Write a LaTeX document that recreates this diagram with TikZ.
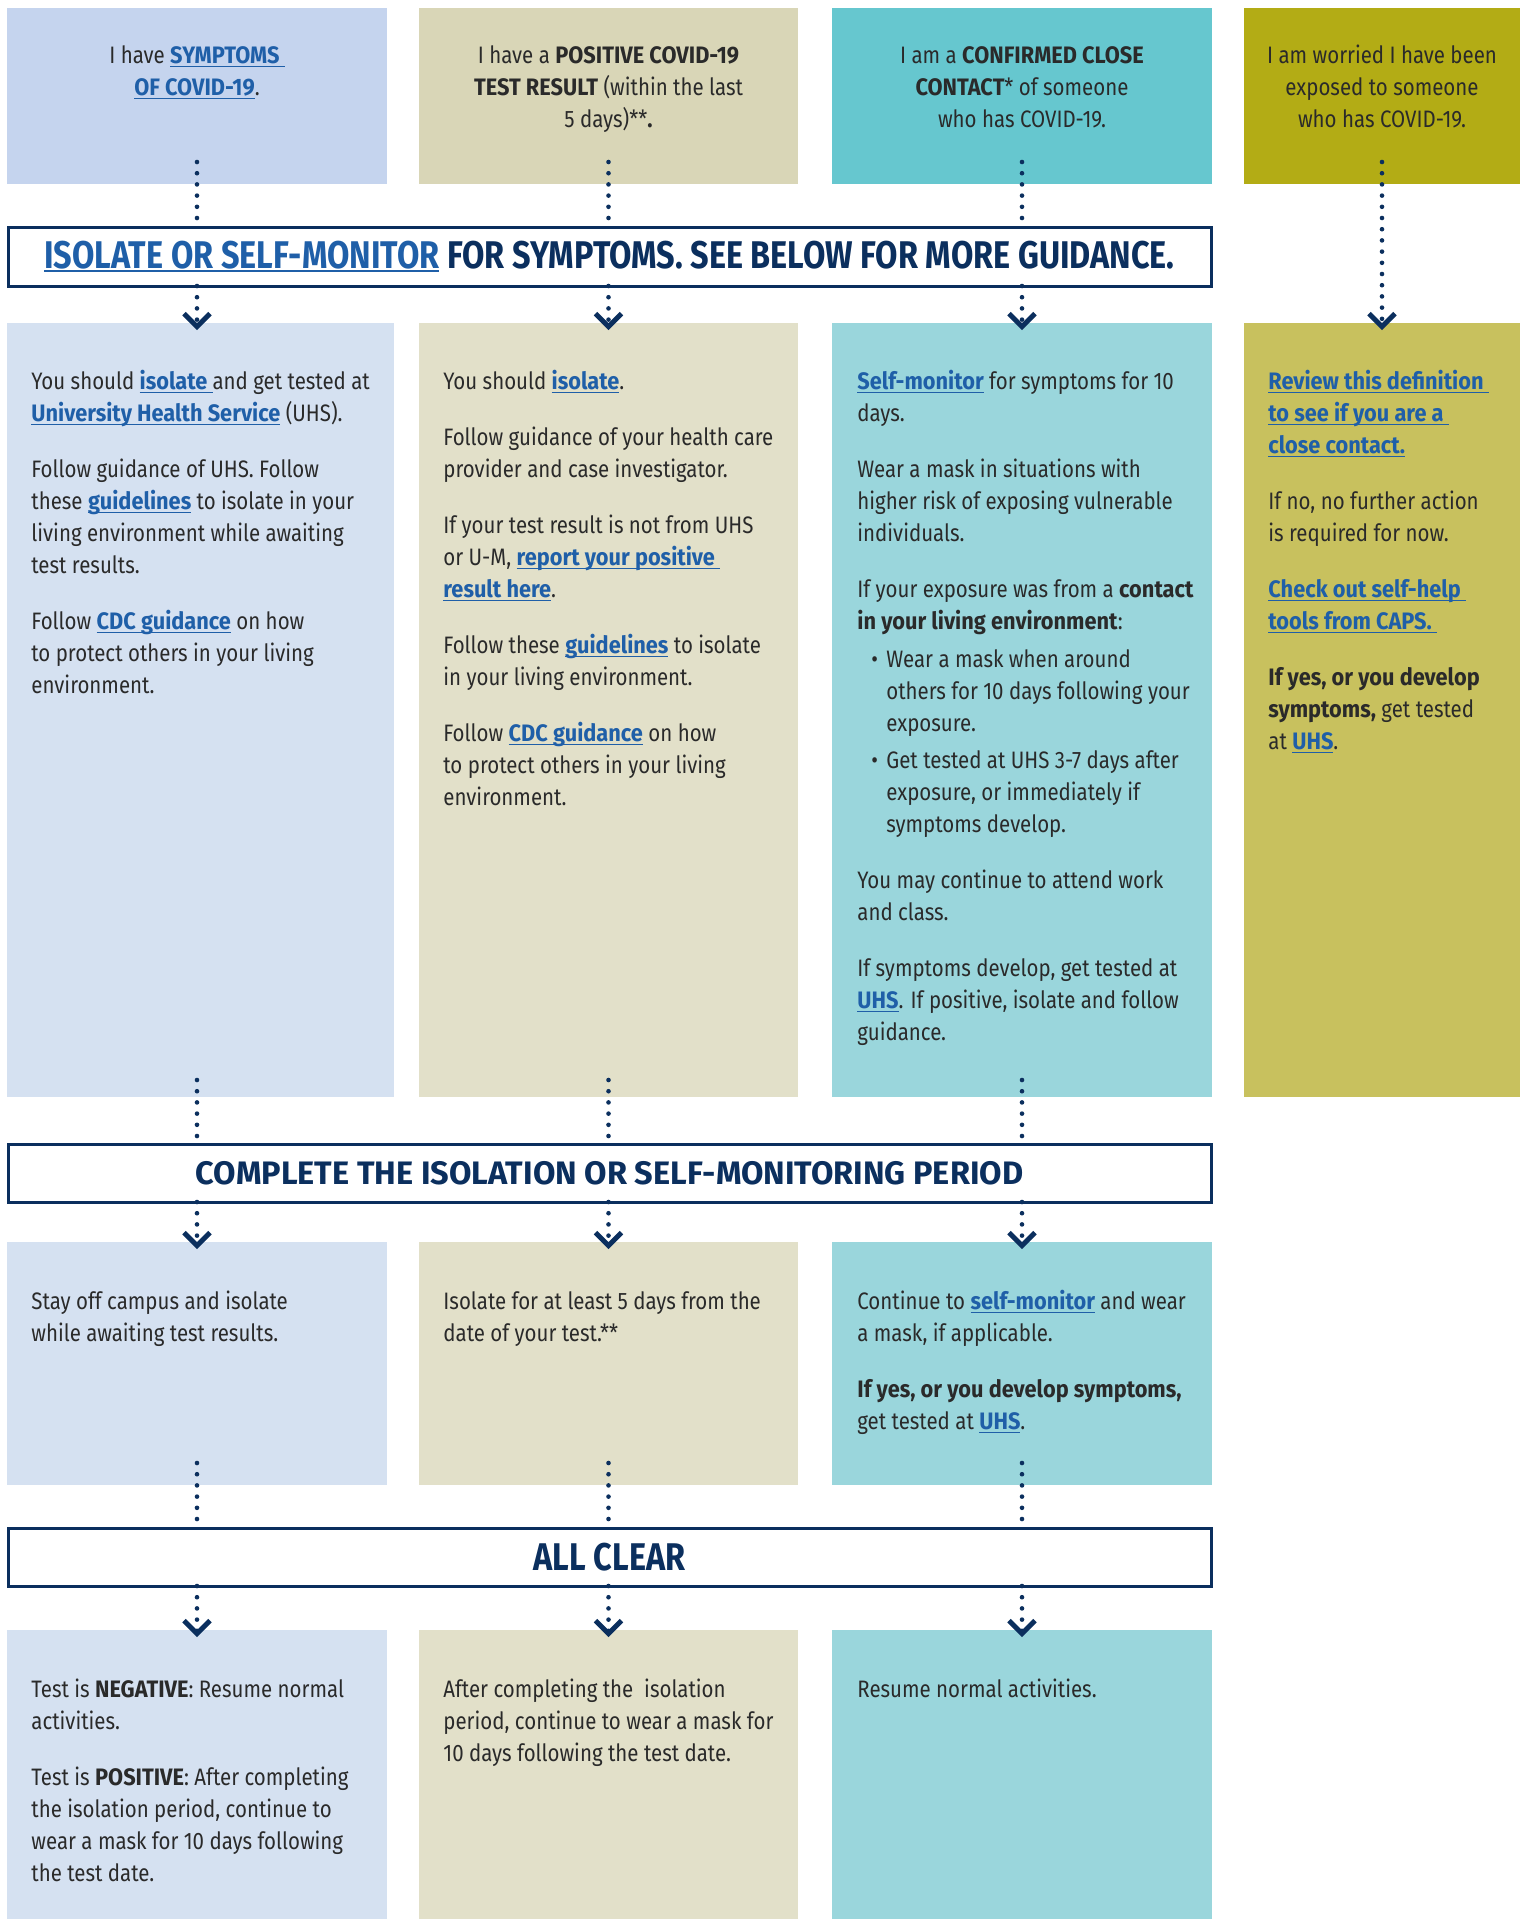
\documentclass[tikz,border=0pt]{standalone}
\usepackage{fontspec}
\setmainfont{Fira Sans}[FakeStretch=0.86, BoldFeatures={FakeStretch=0.915}]
\newfontfamily\bannerfam{Fira Sans}[FakeStretch=0.84]
\newfontfamily\widefont{Fira Sans}
\usetikzlibrary{arrows.meta}

\definecolor{navy}{HTML}{0B2F5E}
\definecolor{linkblue}{HTML}{1F5FA8}
\definecolor{inktext}{HTML}{2A2A2A}
\definecolor{topA}{HTML}{C5D4EE}
\definecolor{topB}{HTML}{D9D6B7}
\definecolor{topC}{HTML}{66C7CF}
\definecolor{topD}{HTML}{B3AC15}
\definecolor{lowA}{HTML}{D5E1F1}
\definecolor{lowB}{HTML}{E2E0C9}
\definecolor{lowC}{HTML}{9AD6DC}
\definecolor{lowD}{HTML}{C8C15E}

\newcommand{\bodyfont}{\fontsize{11.9}{16}\selectfont}
\newcommand{\bannerfont}{\bannerfam\fontsize{19.3}{21}\selectfont\bfseries}
\newcommand{\ulbar}[3]{\setbox0=\hbox{#3}\rlap{\rule[-#1]{\wd0}{#2}}\box0}
\newcommand{\lnk}[1]{{\color{linkblue}\bfseries\ulbar{1.6pt}{0.6pt}{#1}}}

\begin{document}
\begin{tikzpicture}%
        [x=0.5pt, y=-0.5pt,
        box/.style={rectangle, inner sep=0pt, outer sep=0pt, anchor=north west},
        banner/.style={box, fill=white, draw=navy, line width=1.5pt, text=navy, align=center},
        toptxt/.style={anchor=north, inner sep=0pt, align=center, text=inktext, font=\bodyfont},
        bodytxt/.style={anchor=north west, inner sep=0pt, align=left, text=inktext, font=\bodyfont},
        dots/.style={draw=navy, line width=2.3pt, line cap=round, dash pattern=on 0pt off 5.6pt},
        chevron/.style={-{Straight Barb[length=6.5pt,width=13pt,line width=2.4pt]}}]

    \useasboundingbox (0,0) rectangle (1530,1919);

    %% Top row: the four starting situations
    \node[box, fill=topA, minimum width=190pt, minimum height=88pt] (t1) at (7,8) {};
    \node[box, fill=topB, minimum width=189.5pt, minimum height=88pt] (t2) at (419,8) {};
    \node[box, fill=topC, minimum width=190pt, minimum height=88pt] (t3) at (832,8) {};
    \node[box, fill=topD, minimum width=138pt, minimum height=88pt] (t4) at (1244,8) {};
    %% Second row: guidance
    \node[box, fill=lowA, minimum width=193.5pt, minimum height=387pt] (m1) at (7,323) {};
    \node[box, fill=lowB, minimum width=189.5pt, minimum height=387pt] (m2) at (419,323) {};
    \node[box, fill=lowC, minimum width=190pt, minimum height=387pt] (m3) at (832,323) {};
    \node[box, fill=lowD, minimum width=138pt, minimum height=387pt] (m4) at (1244,323) {};
    %% Third row: the period
    \node[box, fill=lowA, minimum width=190pt, minimum height=121.5pt] (r1) at (7,1242) {};
    \node[box, fill=lowB, minimum width=189.5pt, minimum height=121.5pt] (r2) at (419,1242) {};
    \node[box, fill=lowC, minimum width=190pt, minimum height=121.5pt] (r3) at (832,1242) {};
    %% Fourth row: all clear
    \node[box, fill=lowA, minimum width=190pt, minimum height=144.5pt] (b1) at (7,1630) {};
    \node[box, fill=lowB, minimum width=189.5pt, minimum height=144.5pt] (b2) at (419,1630) {};
    \node[box, fill=lowC, minimum width=190pt, minimum height=144.5pt] (b3) at (832,1630) {};

    %% Banners
    \node[banner, minimum width=601.5pt, minimum height=29.5pt, font=\bannerfont] (ban1) at (8,227)
        {{\color{linkblue}\ulbar{2pt}{1pt}{ISOLATE OR SELF-MONITOR}} FOR SYMPTOMS. SEE BELOW FOR MORE GUIDANCE.};
    \node[banner, minimum width=601.5pt, minimum height=29pt, font={\widefont\fontsize{16.25}{18}\selectfont\bfseries}] (ban2) at (8,1144)
        {COMPLETE THE ISOLATION OR SELF-MONITORING PERIOD};
    \node[banner, minimum width=601.5pt, minimum height=29pt, font=\bannerfont] (ban3) at (8,1528)
        {ALL CLEAR};

    %% Dotted connectors
    \foreach \c in {1,2,3}{
        \draw[dots] ([yshift=11pt]t\c.south) -- (t\c.south |- ban1.north);
        \draw[dots, chevron] (t\c.south |- ban1.south) -- ([yshift=-3.5pt]m\c.north -| t\c.south);
        \draw[dots] ([yshift=8.5pt]m\c.south -| t\c.south) -- (t\c.south |- ban2.north);
        \draw[dots, chevron] (t\c.south |- ban2.south) -- ([yshift=-3.5pt]r\c.north -| t\c.south);
        \draw[dots] ([yshift=11pt]r\c.south -| t\c.south) -- (t\c.south |- ban3.north);
        \draw[dots, chevron] (t\c.south |- ban3.south) -- ([yshift=-3.5pt]b\c.north -| t\c.south);
    }
    \draw[dots, chevron] ([yshift=11pt]t4.south) -- ([yshift=-3.5pt]m4.north);

    %% Texts of the top row
    \node[toptxt] (t1text) at ([yshift=-16.5pt]t1.north) {\strut I have \lnk{SYMPTOMS\ }\\
        \lnk{OF COVID-19}.};
    \node[toptxt] (t2text) at ([yshift=-16.5pt]t2.north) {\strut I have a \textbf{POSITIVE COVID-19}\\
        \textbf{TEST RESULT} (within the last\\
        5 days)**\textbf{.}};
    \node[toptxt] (t3text) at ([yshift=-16.5pt]t3.north) {\strut I am a \textbf{CONFIRMED CLOSE}\\
        \textbf{CONTACT}* of someone\\
        who has COVID-19.};
    \node[toptxt] (t4text) at ([yshift=-16.5pt]t4.north) {\strut I am worried I have been\\
        exposed to someone\\
        who has COVID-19.};

    %% Texts of the second row
    \node[bodytxt] (m1text) at ([xshift=12pt,yshift=-22pt]m1.north west) {\strut You should \lnk{isolate\ }and get tested at\\
        \lnk{University Health Service} (UHS).\\[12pt]
        Follow guidance of UHS. Follow\\
        these \lnk{guidelines} to isolate in your\\
        living environment while awaiting\\
        test results.\\[12pt]
        Follow \lnk{CDC guidance} on how\\
        to protect others in your living\\
        environment.};
    \node[bodytxt] (m2text) at ([xshift=12pt,yshift=-22pt]m2.north west) {\strut You should \lnk{isolate}.\\[12pt]
        Follow guidance of your health care\\
        provider and case investigator.\\[12pt]
        If your test result is not from UHS\\
        or U-M, \lnk{report your positive\ }\\
        \lnk{result here}.\\[12pt]
        Follow these \lnk{guidelines} to isolate\\
        in your living environment.\\[12pt]
        Follow \lnk{CDC guidance} on how\\
        to protect others in your living\\
        environment.};
    \node[bodytxt] (m3text) at ([xshift=12.5pt,yshift=-22pt]m3.north west) {\strut\lnk{Self-monitor} for symptoms for 10\\
        days.\\[12pt]
        Wear a mask in situations with\\
        higher risk of exposing vulnerable\\
        individuals.\\[12pt]
        If your exposure was from a \textbf{contact}\\
        \textbf{in your living environment}:\\[3pt]
        \hspace*{7pt}\makebox[7.5pt][l]{•}Wear a mask when around\\
        \hspace*{14.5pt}others for 10 days following your\\
        \hspace*{14.5pt}exposure.\\[2.5pt]
        \hspace*{7pt}\makebox[7.5pt][l]{•}Get tested at UHS 3-7 days after\\
        \hspace*{14.5pt}exposure, or immediately if\\
        \hspace*{14.5pt}symptoms develop.\\[12pt]
        You may continue to attend work\\
        and class.\\[12pt]
        If symptoms develop, get tested at\\
        \lnk{UHS}. If positive, isolate and follow\\
        guidance.};
    \node[bodytxt] (m4text) at ([xshift=12pt,yshift=-22pt]m4.north west) {\strut\lnk{Review this definition\ }\\
        \lnk{to see if you are a\ }\\
        \lnk{close contact.}\\[12pt]
        If no, no further action\\
        is required for now.\\[12pt]
        \lnk{Check out self-help\ }\\
        \lnk{tools from CAPS.\ }\\[12pt]
        \textbf{If yes, or you develop}\\
        \textbf{symptoms,} get tested\\
        at \lnk{UHS}.};

    %% Texts of the third row
    \node[bodytxt] (r1text) at ([xshift=12pt,yshift=-22.5pt]r1.north west) {\strut Stay off campus and isolate\\
        while awaiting test results.};
    \node[bodytxt] (r2text) at ([xshift=12pt,yshift=-22.5pt]r2.north west) {\strut Isolate for at least 5 days from the\\
        date of your test.**};
    \node[bodytxt] (r3text) at ([xshift=12.5pt,yshift=-22.5pt]r3.north west) {\strut Continue to \lnk{self-monitor} and wear\\
        a mask, if applicable.\\[12pt]
        \textbf{If yes, or you develop symptoms,}\\
        get tested at \lnk{UHS}.};

    %% Texts of the fourth row
    \node[bodytxt] (b1text) at ([xshift=12pt,yshift=-22.5pt]b1.north west) {\strut Test is \textbf{NEGATIVE}: Resume normal\\
        activities.\\[12pt]
        Test is \textbf{POSITIVE}: After completing\\
        the isolation period, continue to\\
        wear a mask for 10 days following\\
        the test date.};
    \node[bodytxt] (b2text) at ([xshift=12pt,yshift=-22.5pt]b2.north west) {\strut After completing the\ \ isolation\\
        period, continue to wear a mask for\\
        10 days following the test date.};
    \node[bodytxt] (b3text) at ([xshift=12.5pt,yshift=-22.5pt]b3.north west) {\strut Resume normal activities.};
\end{tikzpicture}
\end{document}
